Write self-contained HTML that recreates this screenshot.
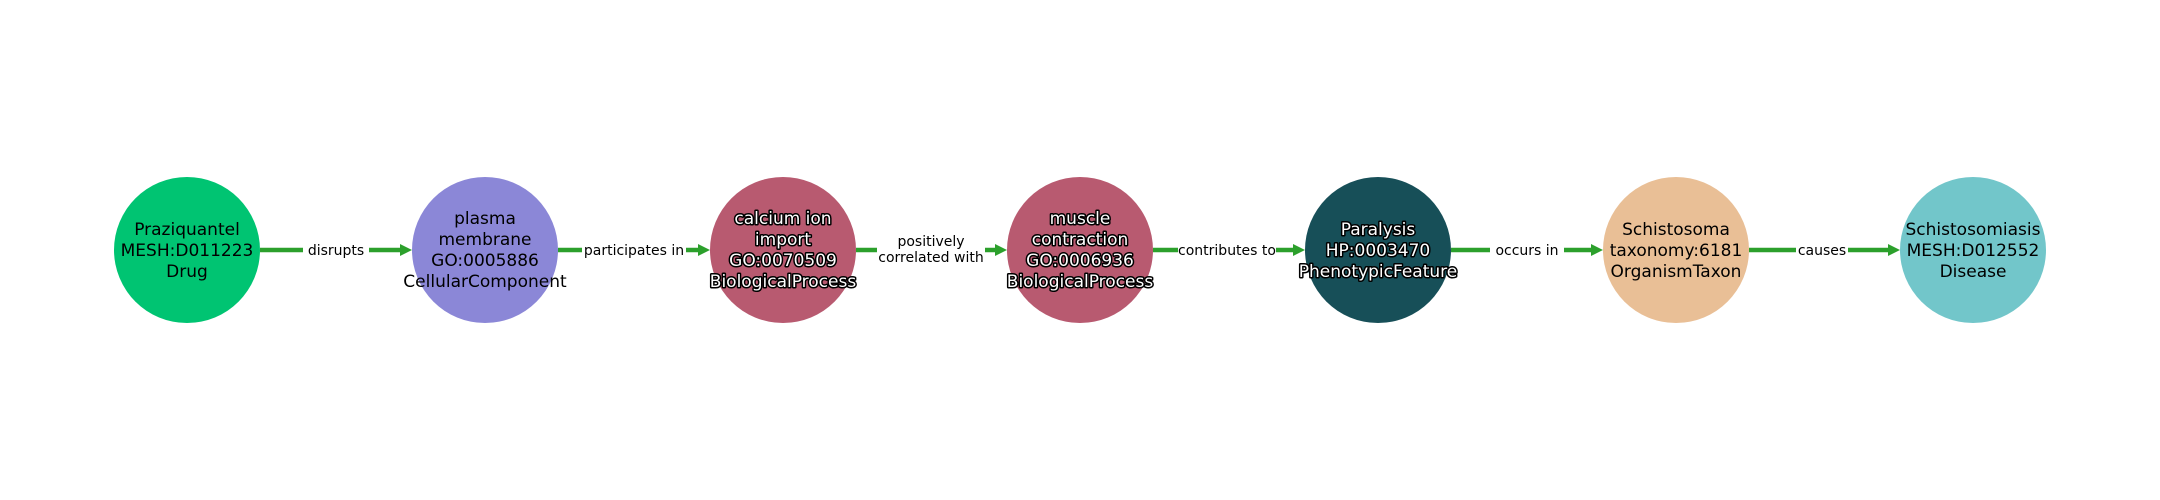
<!DOCTYPE html>
<html><head><meta charset="utf-8"><style>
html,body{margin:0;padding:0;background:#fff;}
svg{display:block;}
text{font-family:"DejaVu Sans","Liberation Sans",sans-serif;}
.n{font-size:17px;text-anchor:middle;fill:#000;}
.w{fill:#fff;stroke:#000;stroke-width:3px;paint-order:stroke;stroke-linejoin:round;}
.e{font-size:14px;text-anchor:middle;fill:#000;}
</style></head><body>
<svg width="2160" height="500" viewBox="0 0 2160 500">
<g stroke="#2ca02c" stroke-width="4.5" fill="none">
<line x1="260" y1="250" x2="402" y2="250"/>
<line x1="558" y1="250" x2="700" y2="250"/>
<line x1="856" y1="250" x2="997" y2="250"/>
<line x1="1153" y1="250" x2="1295" y2="250"/>
<line x1="1451" y1="250" x2="1593" y2="250"/>
<line x1="1749" y1="250" x2="1890" y2="250"/>
</g>
<g fill="#2ca02c">
<polygon points="412,250 400,244 400,256"/>
<polygon points="710,250 698,244 698,256"/>
<polygon points="1007,250 995,244 995,256"/>
<polygon points="1305,250 1293,244 1293,256"/>
<polygon points="1603,250 1591,244 1591,256"/>
<polygon points="1900,250 1888,244 1888,256"/>
</g>
<g fill="#fff">
<rect x="303" y="240" width="66" height="20"/>
<rect x="582" y="240" width="104" height="20"/>
<rect x="877" y="232" width="108" height="36"/>
<rect x="1178" y="240" width="98" height="20"/>
<rect x="1490" y="240" width="74" height="20"/>
<rect x="1796" y="240" width="52" height="20"/>
</g>
<text class="e" x="336" y="255">disrupts</text>
<text class="e" x="634" y="255">participates in</text>
<text class="e" x="931" y="246">positively</text>
<text class="e" x="931" y="262">correlated with</text>
<text class="e" x="1227" y="255">contributes to</text>
<text class="e" x="1527" y="255">occurs in</text>
<text class="e" x="1822" y="255">causes</text>
<circle cx="187" cy="250" r="73" fill="#00c472"/>
<circle cx="485" cy="250" r="73" fill="#8b87d7"/>
<circle cx="783" cy="250" r="73" fill="#b85a70"/>
<circle cx="1080" cy="250" r="73" fill="#b85a70"/>
<circle cx="1378" cy="250" r="73" fill="#174f58"/>
<circle cx="1676" cy="250" r="73" fill="#e9bf96"/>
<circle cx="1973" cy="250" r="73" fill="#72c6ca"/>
<text class="n" x="187" y="235">Praziquantel</text>
<text class="n" x="187" y="256">MESH:D011223</text>
<text class="n" x="187" y="277">Drug</text>
<text class="n" x="485" y="224">plasma</text>
<text class="n" x="485" y="245">membrane</text>
<text class="n" x="485" y="266">GO:0005886</text>
<text class="n" x="485" y="287">CellularComponent</text>
<text class="n w" x="783" y="224">calcium ion</text>
<text class="n w" x="783" y="245">import</text>
<text class="n w" x="783" y="266">GO:0070509</text>
<text class="n w" x="783" y="287">BiologicalProcess</text>
<text class="n w" x="1080" y="224">muscle</text>
<text class="n w" x="1080" y="245">contraction</text>
<text class="n w" x="1080" y="266">GO:0006936</text>
<text class="n w" x="1080" y="287">BiologicalProcess</text>
<text class="n w" x="1378" y="235">Paralysis</text>
<text class="n w" x="1378" y="256">HP:0003470</text>
<text class="n w" x="1378" y="277">PhenotypicFeature</text>
<text class="n" x="1676" y="235">Schistosoma</text>
<text class="n" x="1676" y="256">taxonomy:6181</text>
<text class="n" x="1676" y="277">OrganismTaxon</text>
<text class="n" x="1973" y="235">Schistosomiasis</text>
<text class="n" x="1973" y="256">MESH:D012552</text>
<text class="n" x="1973" y="277">Disease</text>
</svg>
</body></html>
